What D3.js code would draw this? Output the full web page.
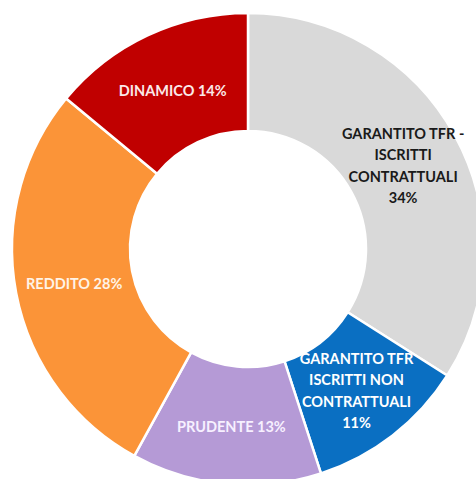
<!DOCTYPE html>
<html>
<head>
<meta charset="utf-8">
<script src="https://cdn.jsdelivr.net/npm/d3@7"></script>
<style>
  html, body { margin: 0; padding: 0; background: #ffffff; }
  svg { display: block; }
  text { font-family: Lato, "Open Sans", sans-serif; font-weight: 700; }
</style>
</head>
<body>
<svg id="chart" width="476" height="479"></svg>
<script>
// Fund allocation by profile (percent), clockwise from 12 o'clock
const categories = [
  "GARANTITO TFR - ISCRITTI CONTRATTUALI",
  "GARANTITO TFR ISCRITTI NON CONTRATTUALI",
  "PRUDENTE",
  "REDDITO",
  "DINAMICO"
];
const values = [34, 11, 13, 28, 14];
const labelLines = [
  ["GARANTITO TFR -", "ISCRITTI", "CONTRATTUALI", "34%"],
  ["GARANTITO TFR", "ISCRITTI NON", "CONTRATTUALI", "11%"],
  ["PRUDENTE 13%"],
  ["REDDITO 28%"],
  ["DINAMICO 14%"]
];
const colors = ["#d9d9d9", "#0a6fc2", "#b59ad6", "#fb9438", "#c00000"];
const textColors = ["#1a1a1a", "#ffffff", "#f7f0ff", "#fff3e6", "#fbe9e9"];

const width = 476, height = 479;
const cx = 248, cy = 249;
const outerR = 236, innerR = 118;

const svg = d3.select("#chart");
const g = svg.append("g").attr("transform", `translate(${cx},${cy})`);

const data = categories.map((c, i) => ({ name: c, value: values[i], i }));

const pie = d3.pie().value(d => d.value).sort(null);
const arc = d3.arc().innerRadius(innerR).outerRadius(outerR);
const labelR = 177;
const labelArc = d3.arc().innerRadius(labelR).outerRadius(labelR);

const arcs = pie(data);

g.selectAll("path.slice")
  .data(arcs)
  .enter().append("path")
  .attr("class", "slice")
  .attr("d", arc)
  .attr("fill", d => colors[d.data.i])
  .attr("stroke", "#ffffff")
  .attr("stroke-width", 2.5)
  .attr("stroke-linejoin", "round");

const lineH = 21.5;
const labels = g.selectAll("text.label")
  .data(arcs)
  .enter().append("text")
  .attr("class", "label")
  .attr("text-anchor", "middle")
  .attr("font-size", 14.5)
  .attr("fill", d => textColors[d.data.i])
  .attr("transform", d => {
    const [x, y] = labelArc.centroid(d);
    return `translate(${x},${y + 2})`;
  });

labels.each(function(d) {
  const lines = labelLines[d.data.i];
  const t = d3.select(this);
  const y0 = -((lines.length - 1) * lineH) / 2;
  lines.forEach((ln, k) => {
    t.append("tspan")
      .attr("x", 0)
      .attr("y", y0 + k * lineH)
      .attr("dy", "0.35em")
      .text(ln);
  });
});
</script>
</body>
</html>
